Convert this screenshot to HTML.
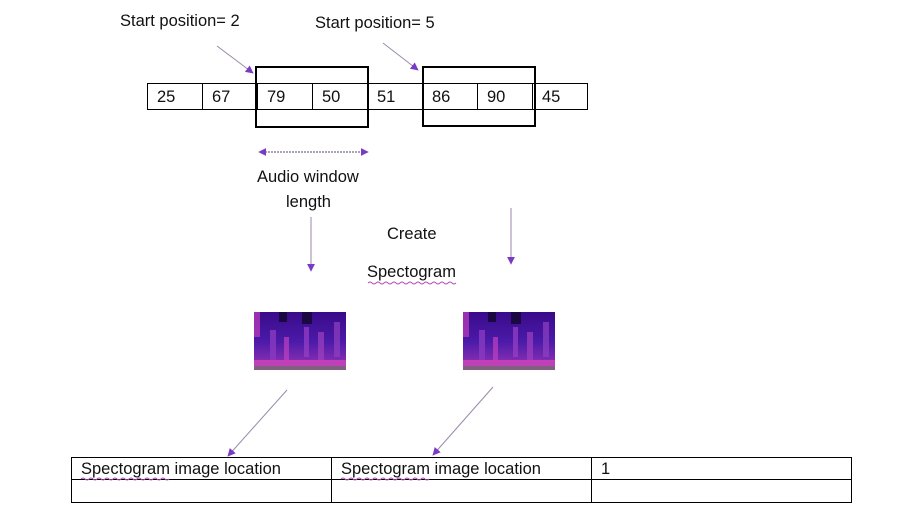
<!DOCTYPE html>
<html><head><meta charset="utf-8"><style>
html,body{margin:0;padding:0;background:#fff;width:923px;height:522px;overflow:hidden}
svg{display:block}
text{font-family:"Liberation Sans",sans-serif;font-size:16.5px;fill:#111}
</style></head><body>
<svg width="923" height="522" viewBox="0 0 923 522" xmlns="http://www.w3.org/2000/svg">
<defs>
<marker id="ah" viewBox="0 0 10 10" refX="9" refY="5" markerWidth="8" markerHeight="8" orient="auto-start-reverse" markerUnits="userSpaceOnUse">
<path d="M0,0 L10,5 L0,10 z" fill="#7a3bc4"/></marker>
<linearGradient id="sg" x1="0" y1="0" x2="0" y2="1">
<stop offset="0" stop-color="#3a0a8a"/><stop offset="0.5" stop-color="#4a1aa8"/><stop offset="0.8" stop-color="#7a2ab0"/><stop offset="1" stop-color="#b03ab0"/></linearGradient>
<g id="spec">
<rect width="92" height="58" fill="url(#sg)"/>
<rect x="0" y="0" width="6" height="25" fill="#b03ab8" opacity=".8"/>
<rect x="16" y="18" width="6" height="30" fill="#8a3ac0" opacity=".8"/>
<rect x="30" y="25" width="5" height="25" fill="#c040c0" opacity=".7"/>
<rect x="50" y="15" width="5" height="30" fill="#9a40c8" opacity=".7"/>
<rect x="64" y="20" width="6" height="28" fill="#a040c0" opacity=".7"/>
<rect x="80" y="10" width="6" height="35" fill="#9040c0" opacity=".7"/>
<rect x="25" y="0" width="8" height="10" fill="#1a0840"/>
<rect x="48" y="0" width="10" height="12" fill="#1a0840"/>
<rect x="0" y="48" width="92" height="10" fill="#c040b8"/>
<rect x="0" y="54" width="92" height="4" fill="#806080"/>
</g>
</defs>
<text x="120" y="26">Start position= 2</text>
<text x="315" y="28">Start position= 5</text>
<g stroke="#9a8aa8" stroke-width="1" fill="none">
<line x1="217" y1="46" x2="253" y2="73" marker-end="url(#ah)"/>
<line x1="383" y1="43" x2="418" y2="70" marker-end="url(#ah)"/>
<line x1="259" y1="152" x2="368" y2="152" stroke="#5a4a6a" stroke-dasharray="2,1" marker-start="url(#ah)" marker-end="url(#ah)"/>
<line x1="311" y1="217" x2="311" y2="271" marker-end="url(#ah)"/>
<line x1="511" y1="208" x2="511" y2="264" marker-end="url(#ah)"/>
<line x1="287" y1="390" x2="228" y2="456" marker-end="url(#ah)"/>
<line x1="493" y1="387" x2="433" y2="455" marker-end="url(#ah)"/>
</g>
<g stroke="#000" stroke-width="1" fill="none">
<rect x="147.5" y="83.5" width="440" height="26"/>
<line x1="202.5" y1="83" x2="202.5" y2="110"/><line x1="257.5" y1="83" x2="257.5" y2="110"/>
<line x1="312.5" y1="83" x2="312.5" y2="110"/><line x1="367.5" y1="83" x2="367.5" y2="110"/>
<line x1="422.5" y1="83" x2="422.5" y2="110"/><line x1="477.5" y1="83" x2="477.5" y2="110"/>
<line x1="532.5" y1="83" x2="532.5" y2="110"/>
</g>
<g stroke="#000" stroke-width="2" fill="none">
<rect x="256" y="67" width="112" height="60"/>
<rect x="423" y="67" width="112" height="59"/>
</g>
<text x="157" y="102">25</text><text x="212" y="102">67</text><text x="267" y="102">79</text>
<text x="322" y="102">50</text><text x="377" y="102">51</text><text x="432" y="102">86</text>
<text x="487" y="102">90</text><text x="542" y="102">45</text>
<text x="257" y="182">Audio window</text>
<text x="286" y="207">length</text>
<text x="387" y="239">Create</text>
<text x="367" y="277">Spectogram</text>
<use href="#spec" x="254" y="312"/>
<use href="#spec" x="463" y="312"/>
<g stroke="#000" stroke-width="1" fill="none">
<rect x="71.5" y="457.5" width="780" height="45"/>
<line x1="71" y1="479.5" x2="852" y2="479.5"/>
<line x1="331.5" y1="457" x2="331.5" y2="503"/>
<line x1="591.5" y1="457" x2="591.5" y2="503"/>
</g>
<text x="81" y="474">Spectogram image location</text>
<text x="341" y="474">Spectogram image location</text>
<text x="601" y="474">1</text>
<g stroke="#b050b0" stroke-width="1" fill="none">
<path d="M368 283 q2 -2 4 0 t4 0 t4 0 t4 0 t4 0 t4 0 t4 0 t4 0 t4 0 t4 0 t4 0 t4 0 t4 0 t4 0 t4 0 t4 0 t4 0 t4 0 t4 0 t4 0 t4 0 t4 0"/>
<path d="M81 479 q2 -2 4 0 t4 0 t4 0 t4 0 t4 0 t4 0 t4 0 t4 0 t4 0 t4 0 t4 0 t4 0 t4 0 t4 0 t4 0 t4 0 t4 0 t4 0 t4 0 t4 0 t4 0 t4 0"/>
<path d="M341 479 q2 -2 4 0 t4 0 t4 0 t4 0 t4 0 t4 0 t4 0 t4 0 t4 0 t4 0 t4 0 t4 0 t4 0 t4 0 t4 0 t4 0 t4 0 t4 0 t4 0 t4 0 t4 0 t4 0"/>
</g>
</svg>
</body></html>
